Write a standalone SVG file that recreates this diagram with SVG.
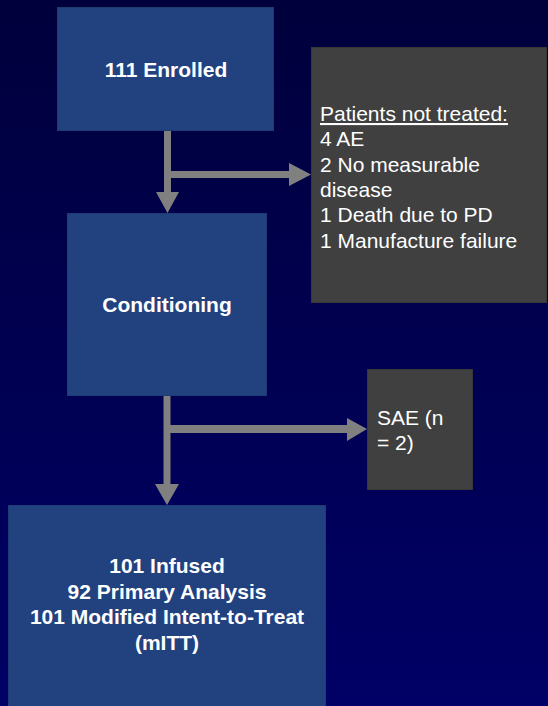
<svg xmlns="http://www.w3.org/2000/svg" width="548" height="706" viewBox="0 0 548 706">
<defs>
<linearGradient id="bg" x1="0" y1="0" x2="0" y2="1">
<stop offset="0" stop-color="#00003c"/>
<stop offset="1" stop-color="#000066"/>
</linearGradient>
</defs>
<style>
.blue{fill:#22427f;stroke:#1e3b74;stroke-width:1}
.gray{fill:#404040;stroke:#383838;stroke-width:1}
.arrow{fill:#808080}
text{font-family:"Liberation Sans",Arial,sans-serif;font-size:21px;fill:#ffffff}
.b{font-weight:bold;text-anchor:middle}
</style>
<rect width="548" height="706" fill="url(#bg)"/>
<g id="connectors">
<path class="arrow" d="M164,130 H171 V171 H289 V163 L311,174.5 L289,186 V178 H171 V192 H179 L167.5,213 L156,192 H164 Z"/>
<path class="arrow" d="M163.5,395 H170.5 V425 H347 V418 L367,429 L347,441 V433 H170.5 V484 H179 L167,505 L155,484 H163.5 Z"/>
</g>
<g id="enrolled">
<rect class="blue" x="57.5" y="7.5" width="216" height="123"/>
<text class="b" x="166" y="77">111 Enrolled</text>
</g>
<g id="not-treated">
<rect class="gray" x="311.5" y="47.5" width="235" height="255"/>
<text x="320" y="121" text-decoration="underline">Patients not treated:</text>
<text x="320" y="146">4 AE</text>
<text x="320" y="171.5">2 No measurable</text>
<text x="320" y="196.5">disease</text>
<text x="320" y="222">1 Death due to PD</text>
<text x="320" y="247.5">1 Manufacture failure</text>
</g>
<g id="conditioning">
<rect class="blue" x="67.5" y="213.5" width="199" height="182"/>
<text class="b" x="167" y="312">Conditioning</text>
</g>
<g id="sae">
<rect class="gray" x="367.5" y="369.5" width="105" height="120"/>
<text x="377" y="425">SAE (n</text>
<text x="377" y="450">= 2)</text>
</g>
<g id="infused">
<rect class="blue" x="8.5" y="505.5" width="317" height="210"/>
<text class="b" x="167" y="573">101 Infused</text>
<text class="b" x="167" y="598.5">92 Primary Analysis</text>
<text class="b" x="167" y="624">101 Modified Intent-to-Treat</text>
<text class="b" x="167" y="649.5">(mITT)</text>
</g>
</svg>
